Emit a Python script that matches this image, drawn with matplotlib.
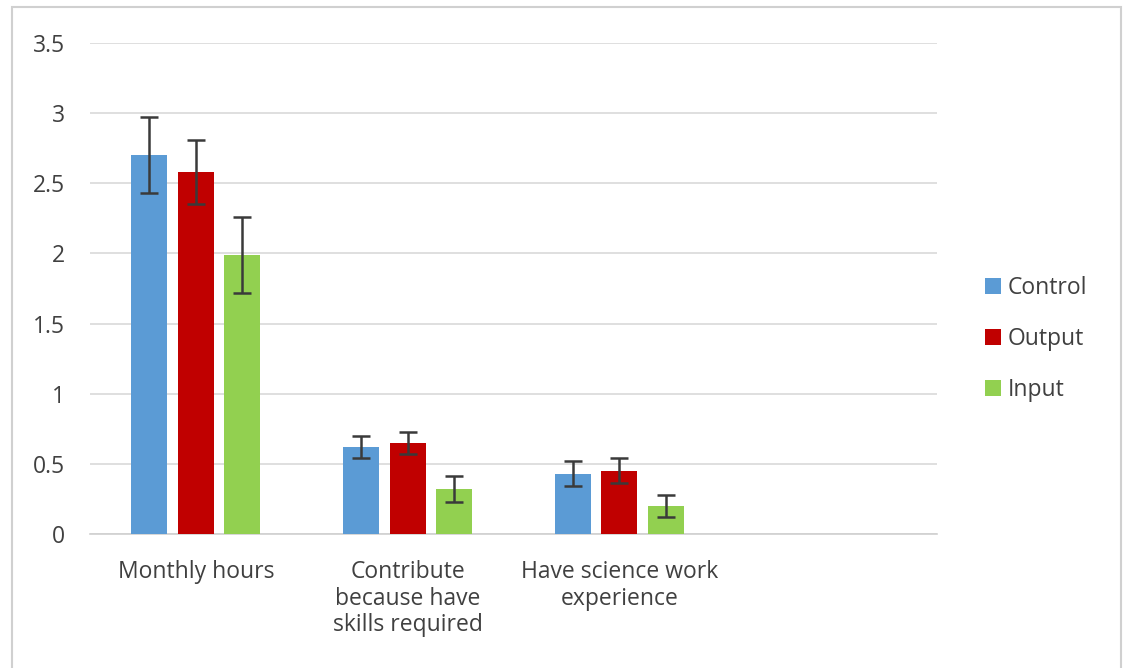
import numpy as np
import matplotlib.pyplot as plt
from matplotlib.patches import Rectangle

plt.rcParams['font.family'] = ['Open Sans', 'DejaVu Sans']

categories = ['Monthly hours', 'Contribute\nbecause have\nskills required',
              'Have science work\nexperience', '']
series = ['Control', 'Output', 'Input']
control = [2.70, 0.62, 0.43, np.nan]
output = [2.58, 0.65, 0.45, np.nan]
input_ = [1.99, 0.32, 0.20, np.nan]
control_err = [0.27, 0.08, 0.09, np.nan]
output_err = [0.23, 0.08, 0.09, np.nan]
input_err = [0.27, 0.09, 0.08, np.nan]
colors = ['#5B9BD5', '#C00000', '#92D050']

fig = plt.figure(figsize=(11.23, 6.68), dpi=100)
ax = fig.add_axes([0.0801, 0.2006, 0.7543, 0.735])

x = np.arange(len(categories))
width = 0.17
step = 0.22
values = [control, output, input_]
errs = [control_err, output_err, input_err]
for i, (name, vals, err) in enumerate(zip(series, values, errs)):
    ax.bar(x + (i - 1) * step, vals, width, color=colors[i], label=name,
           yerr=err, error_kw=dict(ecolor='#3a3a3a', elinewidth=1.8,
                                   capsize=6.5, capthick=1.8), zorder=3)

ax.set_xlim(-0.5, 3.5)
ax.set_ylim(0, 3.5)
ax.set_yticks(np.arange(0, 3.6, 0.5))
ax.set_yticklabels(['0', '0.5', '1', '1.5', '2', '2.5', '3', '3.5'])
ax.set_xticks(x)
ax.set_xticklabels(categories, linespacing=1.12)
ax.grid(axis='y', color='#d9d9d9', linewidth=1.2, zorder=0)
for s in ['top', 'right', 'left']:
    ax.spines[s].set_visible(False)
ax.spines['bottom'].set_color('#d0d0d0')
ax.spines['bottom'].set_linewidth(1.2)
ax.tick_params(axis='both', length=0, labelsize=16.5, colors='#404040')
ax.tick_params(axis='y', pad=18)
ax.tick_params(axis='x', pad=19)

ax.legend(loc='center left', bbox_to_anchor=(1.032, 0.397), frameon=False,
          fontsize=16.5, handlelength=0.7, handleheight=0.7,
          handletextpad=0.3, labelspacing=1.18, labelcolor='#404040')

fig.patches.append(Rectangle((12 / 1123, -0.05), 1109 / 1123, 1.05 - 7 / 668,
                             transform=fig.transFigure, fill=False,
                             edgecolor='#d0d0d0', linewidth=1.5))

fig.savefig('out.png', dpi=100)
